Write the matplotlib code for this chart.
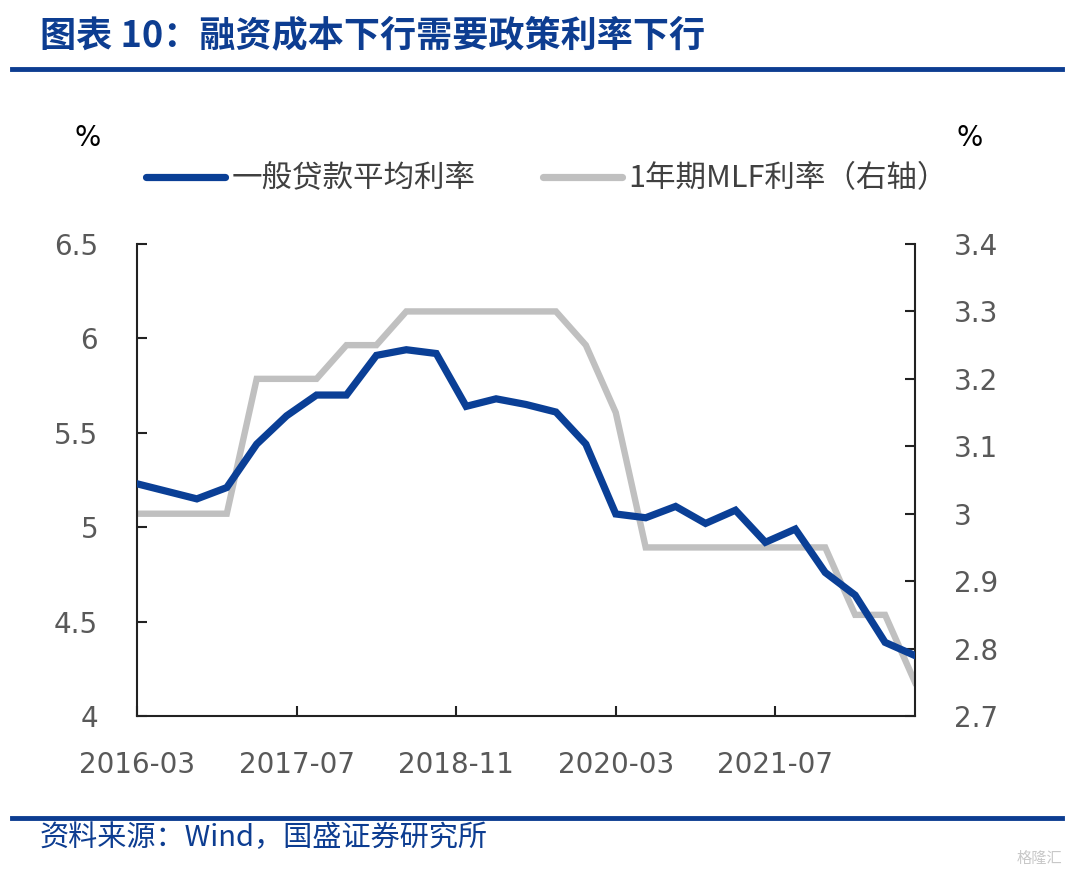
import numpy as np
import matplotlib
matplotlib.use("Agg")
import matplotlib.pyplot as plt
from matplotlib.lines import Line2D

plt.rcParams['font.family'] = ['Noto Sans CJK SC', 'DejaVu Sans']

# quarterly data, 2016-03 .. 2022-09
quarters = ['2016-03', '2016-06', '2016-09', '2016-12',
            '2017-03', '2017-06', '2017-09', '2017-12',
            '2018-03', '2018-06', '2018-09', '2018-12',
            '2019-03', '2019-06', '2019-09', '2019-12',
            '2020-03', '2020-06', '2020-09', '2020-12',
            '2021-03', '2021-06', '2021-09', '2021-12',
            '2022-03', '2022-06', '2022-09']
loan_rate = [5.23, 5.19, 5.15, 5.21, 5.44, 5.59, 5.70, 5.70,
             5.91, 5.94, 5.92, 5.64, 5.68, 5.65, 5.61, 5.44,
             5.07, 5.05, 5.11, 5.02, 5.09, 4.92, 4.99, 4.76,
             4.64, 4.39, 4.32]
mlf_rate = [3.00, 3.00, 3.00, 3.00, 3.20, 3.20, 3.20, 3.25,
            3.25, 3.30, 3.30, 3.30, 3.30, 3.30, 3.30, 3.25,
            3.15, 2.95, 2.95, 2.95, 2.95, 2.95, 2.95, 2.95,
            2.85, 2.85, 2.75]
tick_labels = ['2016-03', '2017-07', '2018-11', '2020-03', '2021-07']

def month_index(s):
    y, m = s.split('-')
    return (int(y) - 2016) * 12 + int(m) - 3

x = np.array([month_index(q) for q in quarters])
xticks = [month_index(t) for t in tick_labels]

blue = '#0a3f96'
gray = '#c0c0c0'
tick_color = '#595959'

fig = plt.figure(figsize=(10.76, 8.8), dpi=100)
ax = fig.add_axes([137/1076, 1-716/880, (915-137)/1076, (716-244)/880])
ax2 = ax.twinx()

ax.plot(x, loan_rate, color=blue, lw=5.2, solid_joinstyle='miter', zorder=3)
ax2.plot(x, mlf_rate, color=gray, lw=4.6, solid_joinstyle='miter', zorder=2)
ax.set_zorder(ax2.get_zorder() + 1)
ax.patch.set_visible(False)

ax.set_xlim(x[0], x[-1])
ax.set_ylim(4, 6.5)
ax2.set_ylim(2.7, 3.4)
ax.set_yticks([4, 4.5, 5, 5.5, 6, 6.5])
ax.set_yticklabels(['4', '4.5', '5', '5.5', '6', '6.5'])
ax2.set_yticks([2.7, 2.8, 2.9, 3.0, 3.1, 3.2, 3.3, 3.4])
ax2.set_yticklabels(['2.7', '2.8', '2.9', '3', '3.1', '3.2', '3.3', '3.4'])
ax.set_xticks(xticks)
ax.set_xticklabels(tick_labels)

for a in (ax, ax2):
    a.spines['top'].set_visible(False)
    for s in ('left', 'right', 'bottom'):
        a.spines[s].set_linewidth(1.5)
        a.spines[s].set_color('#222222')
ax.spines['right'].set_visible(False)
ax2.spines['left'].set_visible(False)
ax2.spines['bottom'].set_visible(False)

ax.tick_params(axis='y', direction='in', length=7, width=1.5, pad=28,
               labelsize=20, labelcolor=tick_color, color='#222222')
ax.tick_params(axis='x', direction='in', length=7, width=1.5, pad=25,
               labelsize=20, labelcolor=tick_color, color='#222222')
ax2.tick_params(axis='y', direction='in', length=7, width=1.5, pad=28,
                labelsize=20, labelcolor=tick_color, color='#222222')
for lab in ax.get_xticklabels() + ax.get_yticklabels() + ax2.get_yticklabels():
    lab.set_family(['DejaVu Sans'])

# unit labels
fig.text(88/1076, 1-138/880, '%', fontsize=20, ha='center', va='center', color='black',
         family=['DejaVu Sans'])
fig.text(970/1076, 1-138/880, '%', fontsize=20, ha='center', va='center', color='black',
         family=['DejaVu Sans'])

# legend
handles = [Line2D([], [], color=blue, lw=5.2, solid_capstyle='round'),
           Line2D([], [], color=gray, lw=5.2, solid_capstyle='round')]
leg = fig.legend(handles, ['一般贷款平均利率', '1年期MLF利率（右轴）'],
                 loc='center left', bbox_to_anchor=(146/1076, 1-179/880),
                 ncol=2, frameon=False, fontsize=22, handlelength=2.6,
                 handletextpad=0.2, columnspacing=2.2, borderaxespad=0,
                 borderpad=0)
for t in leg.get_texts():
    t.set_color('#404040')

# title and rules
fig.text(40/1076, 1-36/880, '图表 10：融资成本下行需要政策利率下行', fontsize=26,
         fontweight='bold', style='italic', color='#0d3d91', ha='left', va='center')
fig.add_artist(Line2D([12/1076, 1062/1076], [1-69/880, 1-69/880],
                      color='#0d3d91', lw=3.5))
fig.add_artist(Line2D([12/1076, 1062/1076], [1-818/880, 1-818/880],
                      color='#0d3d91', lw=3.5))
fig.text(40/1076, 1-838/880, '资料来源：Wind，国盛证券研究所', fontsize=21,
         style='italic', color='#0d3d91', ha='left', va='center')
fig.text(1062/1076, 1-858/880, '格隆汇', fontsize=11, color='#c8c8c8',
         ha='right', va='center')

fig.savefig('out.png', dpi=100)
